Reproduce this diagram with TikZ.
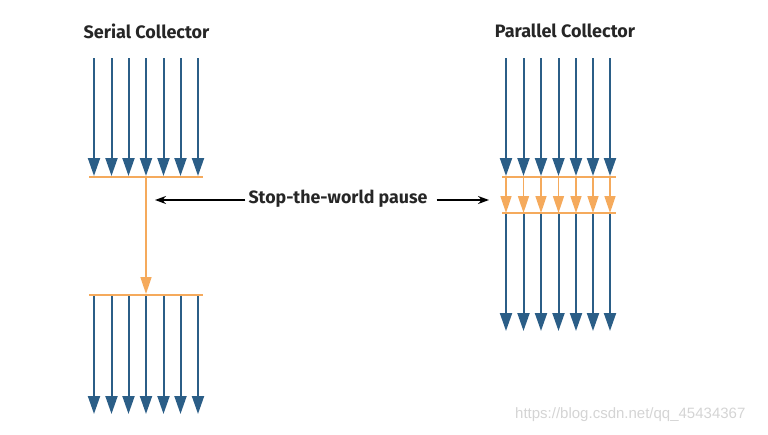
\documentclass[tikz,border=0pt]{standalone}
\usepackage{fontspec}
\setmainfont{Fira Sans}
\newfontfamily\wmfont{Liberation Sans}
\usetikzlibrary{arrows.meta}
\definecolor{gcblue}{HTML}{2B5E87}
\definecolor{gcorange}{HTML}{F5AA5C}
\tikzset{
  bluearrow/.style={draw=gcblue,line width=2pt,-{Triangle[length=18pt,width=12pt]}},
  orangearrow/.style={draw=gcorange,line width=1.6pt,-{Triangle[length=17pt,width=11pt]}},
  orangeline/.style={draw=gcorange,line width=1.6pt},
  blackarrow/.style={draw=black,line width=1.6pt,-{Stealth[length=11pt,width=8pt]}},
  title/.style={font=\fontsize{18}{20}\selectfont\bfseries,text=black!85,inner sep=0pt},
  pause/.style={font=\fontsize{17.8}{20}\selectfont\bfseries,text=black!85,inner sep=2pt},
  wm/.style={font=\wmfont\fontsize{15}{17}\selectfont,text=black!17,inner sep=0pt}
}
\begin{document}
\begin{tikzpicture}[x=1pt,y=-1pt]
\useasboundingbox (0,0) rectangle (768,434);
% titles
\node[title] (t1) at (146.5,31) {Serial Collector};
\node[title] (t2) at (565,31) {Parallel Collector};
% serial collector
\foreach \i/\x in {1/94,2/111.5,3/128.5,4/146,5/163.5,6/180.5,7/198}{
  \coordinate (sa\i) at (\x,58);
  \coordinate (sb\i) at (\x,176);
  \coordinate (sc\i) at (\x,295);
  \coordinate (sd\i) at (\x,414);
  \draw[bluearrow] (sa\i) -- (sb\i);
  \draw[bluearrow] (sc\i) -- (sd\i);
}
\coordinate (sl1) at (89,177);
\coordinate (sr1) at (203,177);
\coordinate (sl2) at (89,295);
\coordinate (sr2) at (203,295);
\draw[orangeline] (sl1) -- (sr1);
\draw[orangeline] (sl2) -- (sr2);
\coordinate (st) at (146,177);
\coordinate (sp) at (146,294);
\draw[orangearrow] (st) -- (sp);
% parallel collector
\foreach \i/\x in {1/506,2/523.5,3/541,4/558.5,5/576,6/593,7/610}{
  \coordinate (pa\i) at (\x,58);
  \coordinate (pb\i) at (\x,176);
  \coordinate (pc\i) at (\x,177);
  \coordinate (pd\i) at (\x,213);
  \coordinate (pe\i) at (\x,331);
  \draw[bluearrow] (pa\i) -- (pb\i);
  \draw[orangearrow] (pc\i) -- (pd\i);
  \draw[bluearrow] (pd\i) -- (pe\i);
}
\coordinate (pl1) at (502,177);
\coordinate (pr1) at (616,177);
\coordinate (pl2) at (502,213);
\coordinate (pr2) at (616,213);
\draw[orangeline] (pl1) -- (pr1);
\draw[orangeline] (pl2) -- (pr2);
% pause label
\node[pause] (pz) at (338,199) {Stop-the-world pause};
\coordinate (lt) at (155,200);
\coordinate (rt) at (489,200);
\draw[blackarrow] (pz.west) ++(-1,1) -- (lt);
\draw[blackarrow] (pz.east) ++(7,1) -- (rt);
% watermark
\node[wm,anchor=west] (w) at (515,415) {https://blog.csdn.net/qq\_45434367};
\end{tikzpicture}
\end{document}
